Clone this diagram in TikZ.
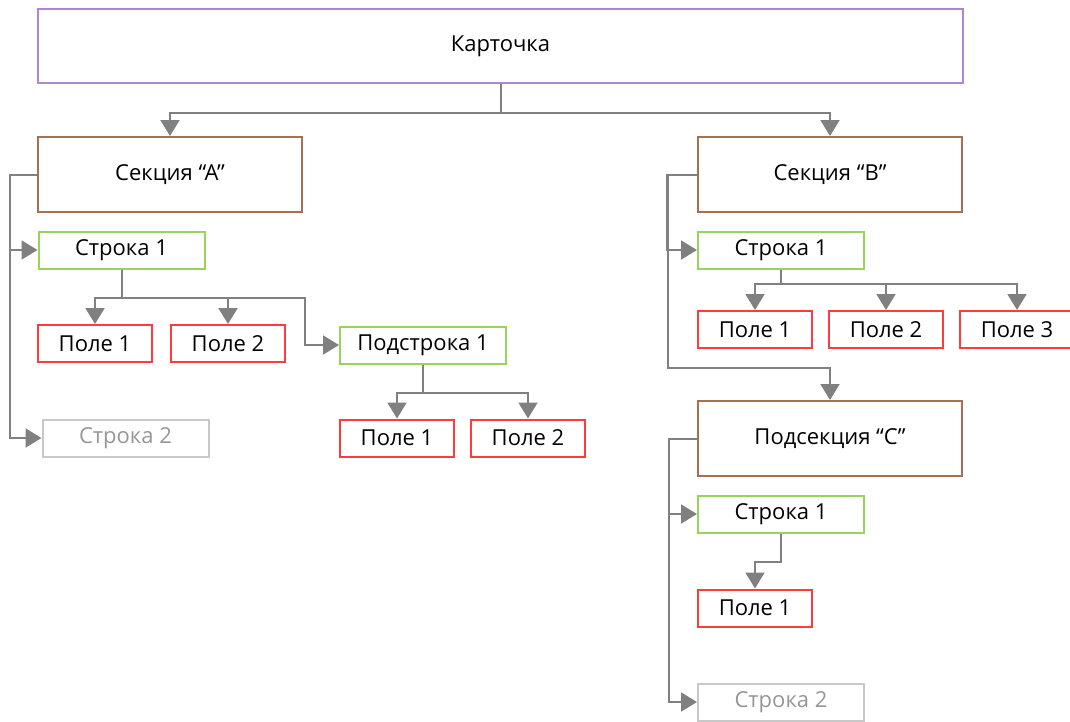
\documentclass[tikz,border=0pt]{standalone}
\usepackage{fontspec}
\setmainfont{Open Sans}
\usetikzlibrary{arrows.meta}
\definecolor{cpurple}{RGB}{178,132,214}
\definecolor{cbrown}{RGB}{168,112,80}
\definecolor{cgreen}{RGB}{150,212,92}
\definecolor{cred}{RGB}{255,60,60}
\definecolor{cline}{RGB}{128,128,128}
\definecolor{cghost}{RGB}{200,200,200}
\definecolor{cghosttext}{RGB}{150,150,150}
\begin{document}
\begin{tikzpicture}[x=1pt,y=-1pt,
  box/.style={draw,rectangle,line width=2pt,inner sep=0pt,font=\fontsize{22}{26}\selectfont,text=black},
  topbox/.style={box,draw=cpurple,minimum width=925pt,minimum height=74pt},
  secbox/.style={box,draw=cbrown,minimum width=264pt,minimum height=75pt},
  rowbox/.style={box,draw=cgreen,minimum width=166pt,minimum height=37pt},
  ghostbox/.style={box,draw=cghost,text=cghosttext,minimum width=166pt,minimum height=37pt},
  fieldbox/.style={box,draw=cred,minimum width=114pt,minimum height=37pt},
  arr/.style={draw=cline,line width=2pt,-{Triangle[width=19pt,length=16pt]}}
]
\useasboundingbox (0,0) rectangle (1070,721);
% nodes
\node[topbox] (card) at (500.5,46) {Карточка};
\node[secbox] (secA) at (170,174.5) {Секция “A”};
\node[secbox] (secB) at (830,174.5) {Секция “B”};
\node[rowbox] (rowA1) at (121.5,250) {Строка 1};
\node[fieldbox] (fA1) at (95,343.5) {Поле 1};
\node[fieldbox] (fA2) at (228,343.5) {Поле 2};
\node[rowbox] (subA) at (423,345) {Подстрока 1};
\node[ghostbox] (rowA2) at (125.5,438) {Строка 2};
\node[fieldbox] (fS1) at (397,438) {Поле 1};
\node[fieldbox] (fS2) at (528,438) {Поле 2};
\node[rowbox] (rowB1) at (781,250) {Строка 1};
\node[fieldbox] (fB1) at (755,329.5) {Поле 1};
\node[fieldbox] (fB2) at (886,329.5) {Поле 2};
\node[fieldbox] (fB3) at (1017,329.5) {Поле 3};
\node[secbox] (secC) at (830,438.5) {Подсекция “C”};
\node[rowbox] (rowC1) at (781,514) {Строка 1};
\node[fieldbox] (fC1) at (755,608) {Поле 1};
\node[ghostbox] (rowC2) at (781,702) {Строка 2};
\coordinate (kA) at (305,345);
\coordinate (kB) at (668,368);
% connectors
\draw[arr] (card.south) -- ++(0,29) -| (secA.north);
\draw[arr] (card.south) -- ++(0,29) -| (secB.north);
\draw[arr] (secA.west) -- ++(-27,0) |- (rowA1.west);
\draw[arr] (secA.west) -- ++(-27,0) |- (rowA2.west);
\draw[arr] (rowA1.south) -- ++(0,28) -| (fA1.north);
\draw[arr] (rowA1.south) -- ++(0,28) -| (fA2.north);
\draw[arr] (rowA1.south) -- ++(0,28) -| (kA) -- (subA.west);
\draw[arr] (subA.south) -- ++(0,28) -| (fS1.north);
\draw[arr] (subA.south) -- ++(0,28) -| (fS2.north);
\draw[arr] (secB.west) -| (kB) -| (secC.north);
\draw[arr] (secB.west) -- ++(-30,0) |- (rowB1.west);
\draw[arr] (rowB1.south) -- ++(0,14) -| (fB1.north);
\draw[arr] (rowB1.south) -- ++(0,14) -| (fB2.north);
\draw[arr] (rowB1.south) -- ++(0,14) -| (fB3.north);
\draw[arr] (secC.west) -- ++(-28,0) |- (rowC1.west);
\draw[arr] (secC.west) -- ++(-28,0) |- (rowC2.west);
\draw[arr] (rowC1.south) -- ++(0,28) -| (fC1.north);
\end{tikzpicture}
\end{document}
